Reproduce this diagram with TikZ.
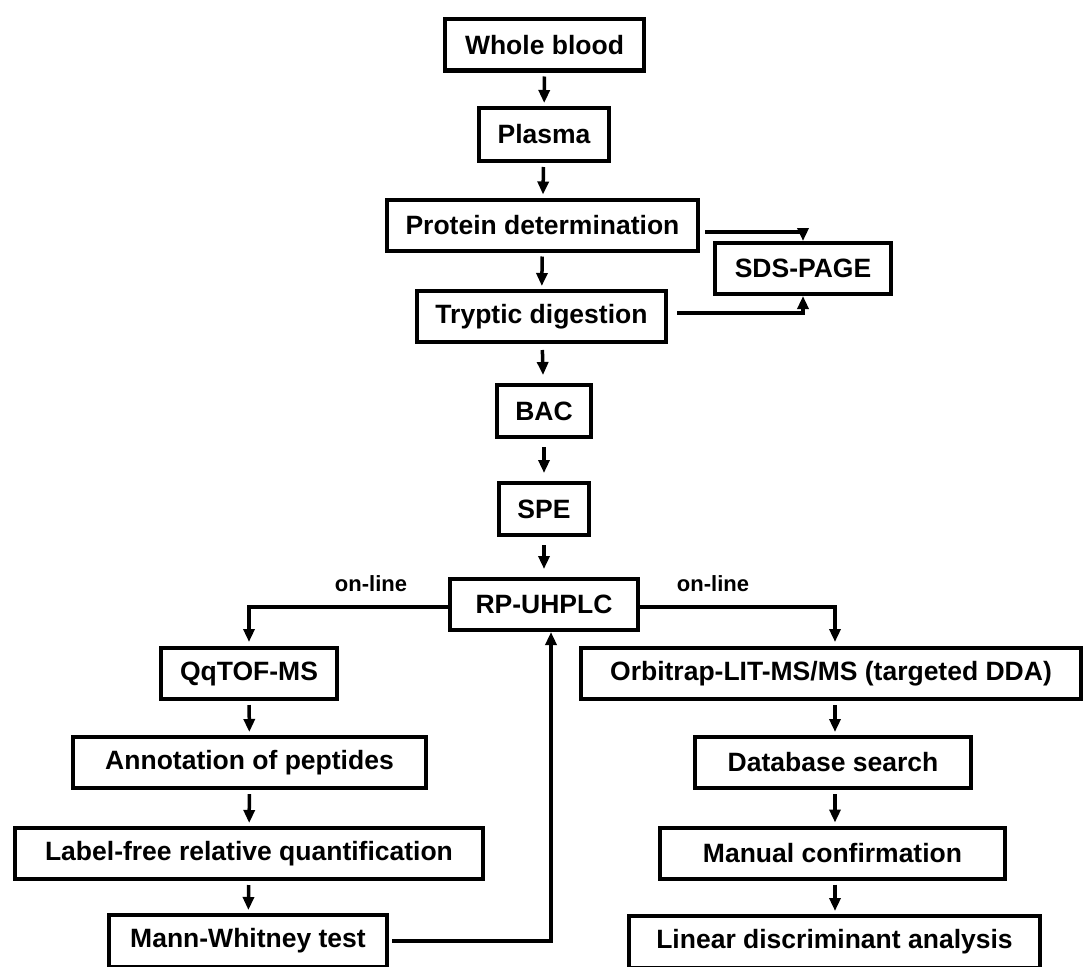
\documentclass[tikz,border=0pt]{standalone}
\usepackage{fontspec}
\setmainfont{Liberation Sans}
\usetikzlibrary{calc}
\usetikzlibrary{arrows.meta}

\begin{document}
\begin{tikzpicture}[x=1pt, y=-1pt,
    box/.style={draw, line width=4pt, minimum height=51pt, inner sep=0pt, font=\fontsize{26.5}{30}\selectfont\bfseries},
    link/.style={line width=3.5pt, -{Triangle[length=13pt, width=11pt]}, shorten <=4pt, shorten >=3pt},
    note/.style={font=\fontsize{22}{26}\selectfont\bfseries}]
    \useasboundingbox (0, 0) rectangle (1089, 966);

    % main column
    \node[box, minimum width=199pt] (blood) at (544.5, 45) {Whole blood};
    \node[box, minimum width=130pt, minimum height=53pt] (plasma) at (544, 134.5) {Plasma};
    \node[box, minimum width=311pt] (protein) at (542.5, 225) {Protein determination};
    \node[box, minimum width=176pt] (sds) at (803, 268.5) {SDS-PAGE};
    \node[box, minimum width=249pt] (tryptic) at (541.5, 316.5) {Tryptic digestion};
    \node[box, minimum width=94pt, minimum height=52pt] (bac) at (544, 411) {BAC};
    \node[box, minimum width=90pt, minimum height=52pt] (spe) at (544, 509) {SPE};
    \node[box, minimum width=188pt] (rp) at (544, 604.5) {RP-UHPLC};

    % left branch
    \node[box, minimum width=176pt] (qtof) at (249, 673.5) {QqTOF-MS};
    \node[box, minimum width=353pt] (annot) at (249.5, 762.5) {Annotation of peptides};
    \node[box, minimum width=468pt] (labelfree) at (249, 853.5) {Label-free relative quantification};
    \node[box, minimum width=278pt, minimum height=52pt] (mann) at (248, 941) {Mann-Whitney test};

    % right branch
    \node[box, minimum width=500pt] (orbi) at (831, 673.5) {Orbitrap-LIT-MS/MS (targeted DDA)};
    \node[box, minimum width=276pt] (dbsearch) at (833, 762.5) {Database search};
    \node[box, minimum width=345pt] (manual) at (832.5, 853) {Manual confirmation};
    \node[box, minimum width=411pt, minimum height=52pt] (lda) at (834.5, 942) {Linear discriminant analysis};

    \node[note] (online left) at (371, 584) {on-line};
    \node[note] (online right) at (713, 584) {on-line};

    \draw[link] (blood) -- (plasma);
    \draw[link] (plasma) -- (protein);
    \draw[link] (protein) -- (tryptic);
    \draw[link, shorten <=6pt, shorten >=8pt] (tryptic) -- (bac);
    \draw[link, shorten <=8pt, shorten >=8pt] (bac) -- (spe);
    \draw[link, shorten <=8pt, shorten >=8pt] (spe) -- (rp);

    \draw[link, shorten <=5pt, shorten >=0pt] ([yshift=-7pt]protein.east) -| (sds.north);
    \draw[link, shorten <=9pt, shorten >=0pt] ([yshift=3.5pt]tryptic.east) -| (sds.south);

    \draw[link, shorten <=0pt, shorten >=4pt] ([yshift=-2.5pt]rp.west) -| (qtof.north);
    \draw[link, shorten <=0pt, shorten >=4pt] ([yshift=-2.5pt]rp.east) -| ([xshift=4pt]orbi.north);
    \draw[link, shorten <=3pt, shorten >=0pt] (mann.east) -| ([xshift=7pt]rp.south);

    \draw[link] (qtof) -- (annot);
    \draw[link] (annot) -- (labelfree);
    \draw[link] (labelfree) -- (mann);

    \draw[link] ([xshift=4pt]orbi.south) -- ([xshift=2pt]dbsearch.north);
    \draw[link] ([xshift=2pt]dbsearch.south) -- ([xshift=2.5pt]manual.north);
    \draw[link] ([xshift=2.5pt]manual.south) -- ([xshift=0.5pt]lda.north);
\end{tikzpicture}
\end{document}
